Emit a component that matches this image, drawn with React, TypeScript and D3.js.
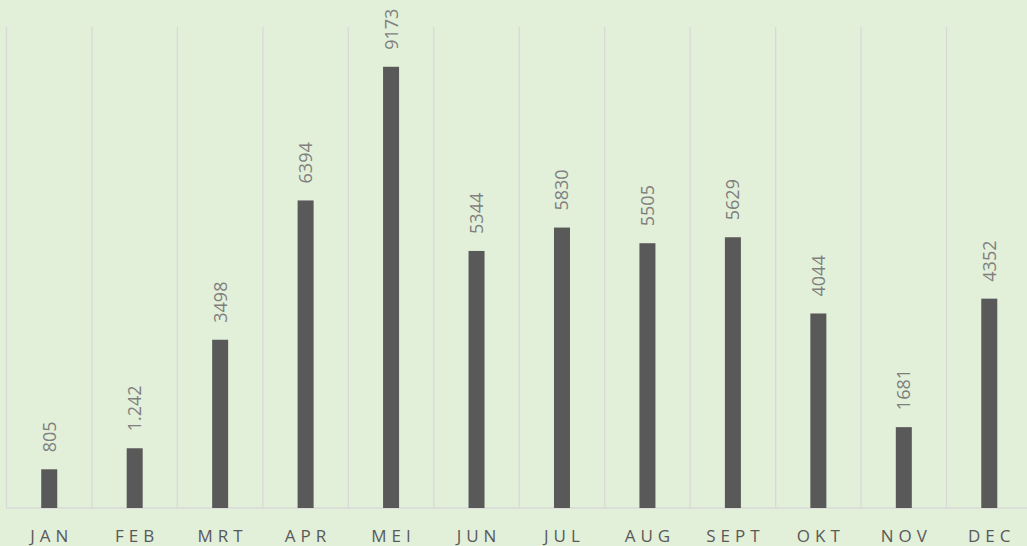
import React, { useRef, useEffect } from "react";
import * as d3 from "d3";

const months = ["JAN", "FEB", "MRT", "APR", "MEI", "JUN", "JUL", "AUG", "SEPT", "OKT", "NOV", "DEC"];
const values = [805, 1242, 3498, 6394, 9173, 5344, 5830, 5505, 5629, 4044, 1681, 4352];
const valueLabels = ["805", "1.242", "3498", "6394", "9173", "5344", "5830", "5505", "5629", "4044", "1681", "4352"];

const App = () => {
  const ref = useRef<SVGSVGElement>(null);
  const width = 1027;
  const height = 546;

  useEffect(() => {
    const svg = d3.select(ref.current);
    svg.selectAll("*").remove();

    // background
    svg.append("rect").attr("width", width).attr("height", height).attr("fill", "#e2efd9");

    const x = d3.scaleBand().domain(months).range([6.5, 1032]).paddingInner(0).paddingOuter(0);
    const y = d3.scaleLinear().domain([0, 10000]).range([508, 27]);

    // vertical gridlines between categories
    const edges = months.map((m) => x(m)!).concat([x(months[months.length - 1])! + x.bandwidth()]);
    svg
      .selectAll(".grid")
      .data(edges)
      .enter()
      .append("line")
      .attr("class", "grid")
      .attr("x1", (d) => d)
      .attr("x2", (d) => d)
      .attr("y1", y(10000))
      .attr("y2", y(0))
      .attr("stroke", "#d9d9d9")
      .attr("stroke-width", 1.3);

    // baseline
    svg
      .append("line")
      .attr("x1", edges[0])
      .attr("x2", width)
      .attr("y1", y(0))
      .attr("y2", y(0))
      .attr("stroke", "#d9d9d9")
      .attr("stroke-width", 1.3);

    const barW = 16;
    svg
      .selectAll(".bar")
      .data(values)
      .enter()
      .append("rect")
      .attr("class", "bar")
      .attr("x", (d, i) => x(months[i])! + x.bandwidth() / 2 - barW / 2)
      .attr("y", (d) => y(d))
      .attr("width", barW)
      .attr("height", (d) => y(0) - y(d))
      .attr("fill", "#595959");

    // value labels, rotated
    svg
      .selectAll(".val")
      .data(values)
      .enter()
      .append("text")
      .attr("class", "val")
      .attr("transform", (d, i) => {
        const cx = x(months[i])! + x.bandwidth() / 2;
        return `translate(${cx + 6.5},${y(d) - 17}) rotate(-90)`;
      })
      .attr("text-anchor", "start")
      .attr("font-family", "Open Sans, sans-serif")
      .attr("font-size", 18)
      .attr("fill", "#7f7f7f")
      .text((d, i) => valueLabels[i]);

    // x-axis labels
    svg
      .selectAll(".xl")
      .data(months)
      .enter()
      .append("text")
      .attr("class", "xl")
      .attr("x", (d) => x(d)! + x.bandwidth() / 2 + 2.5)
      .attr("y", 542)
      .attr("text-anchor", "middle")
      .attr("font-family", "Open Sans, sans-serif")
      .attr("font-size", 17)
      .attr("letter-spacing", 5)
      .attr("fill", "#595959")
      .text((d) => d);
  }, []);

  return (
    <svg
      ref={ref}
      width={width}
      height={height}
      style={{ position: "absolute", left: 0, top: 0, display: "block" }}
    />
  );
};

export default App;
